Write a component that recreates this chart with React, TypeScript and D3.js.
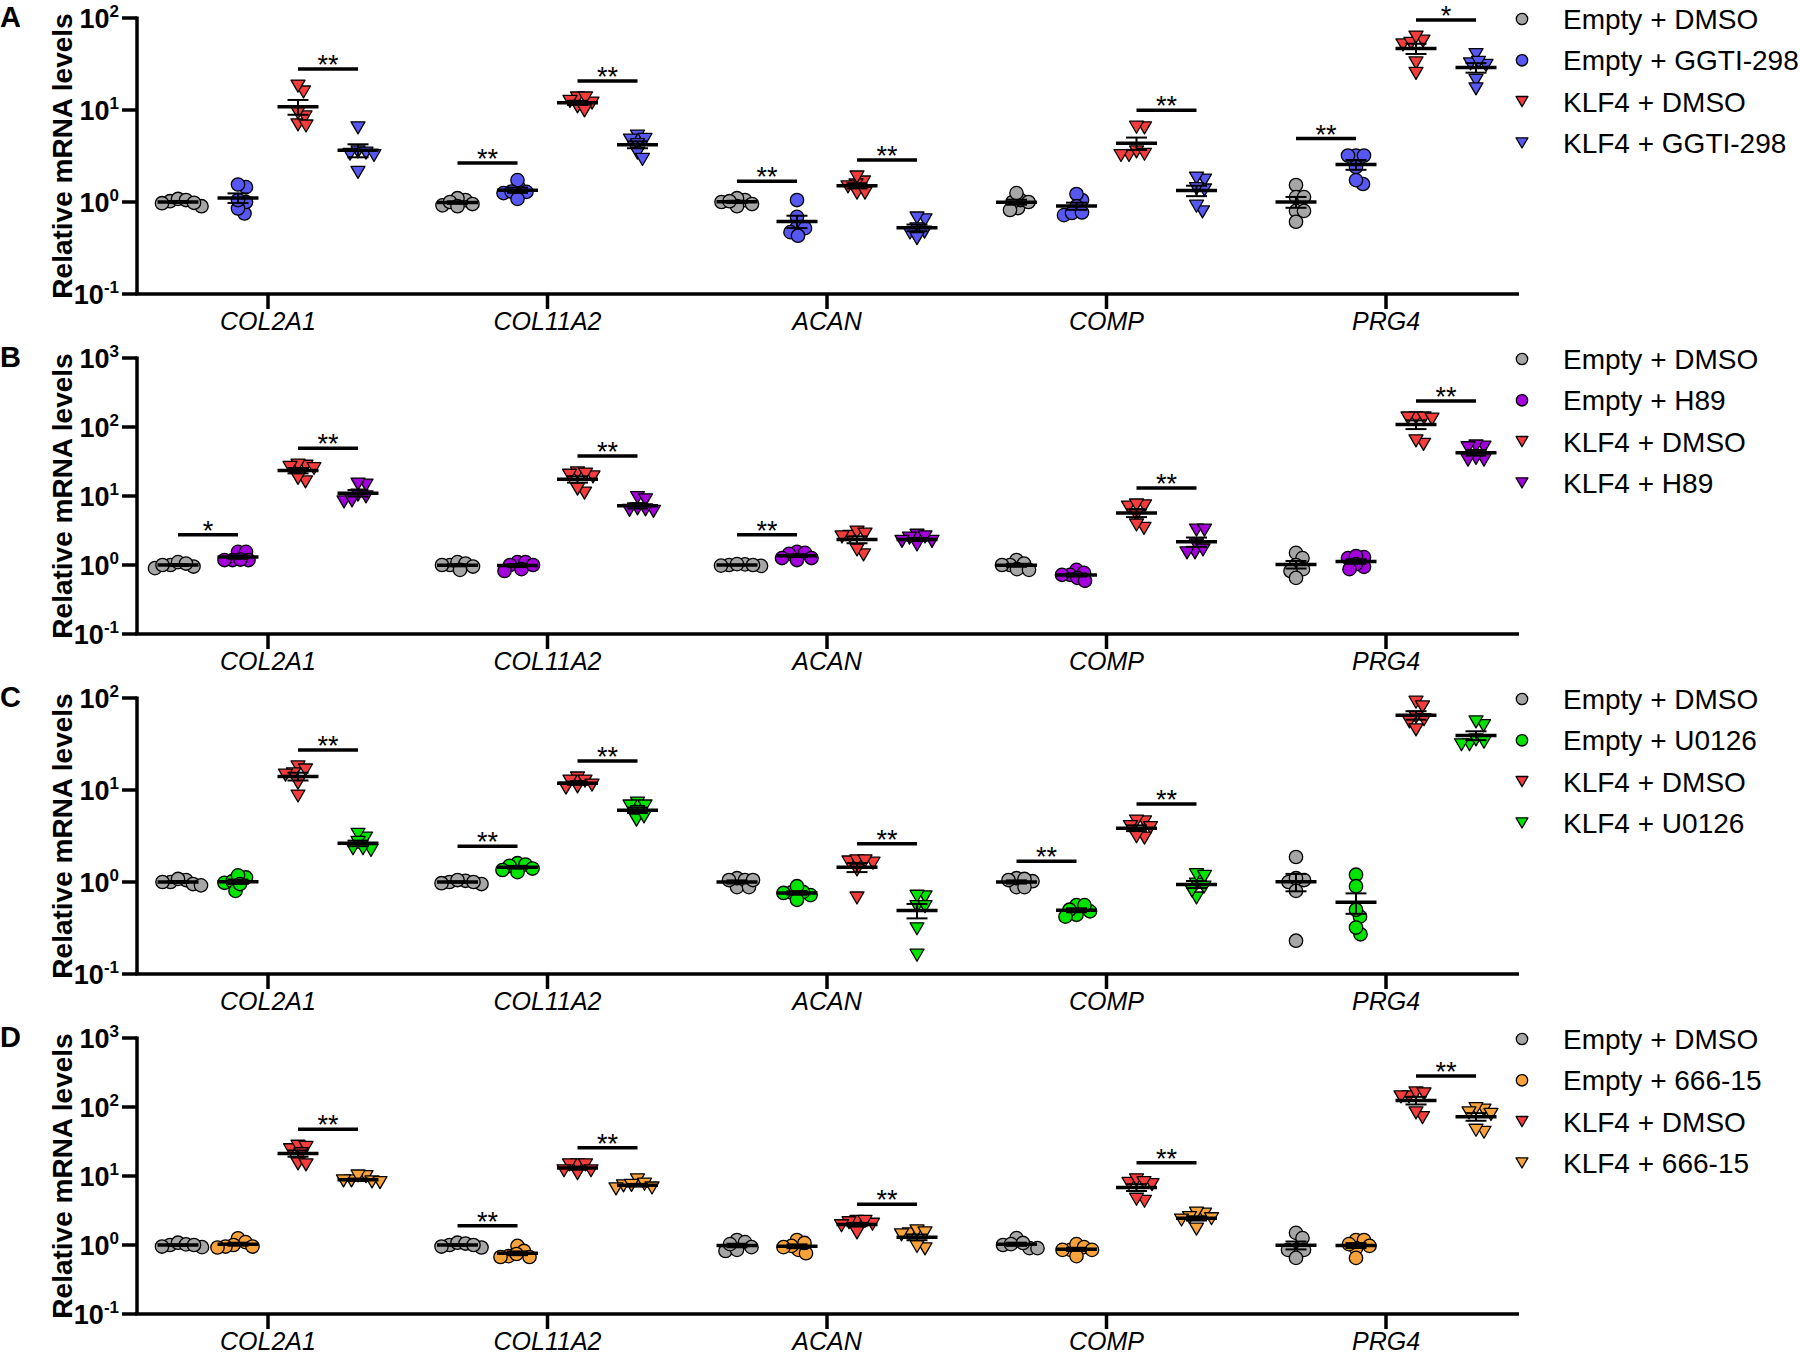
import React from 'react';
import * as d3 from 'd3';

const genes = ['COL2A1', 'COL11A2', 'ACAN', 'COMP', 'PRG4'];
const panelLetters = ['A', 'B', 'C', 'D'];
const yMaxima = [100, 1000, 100, 1000];
const shapes = ['circle', 'circle', 'triangle', 'triangle'];

const legendA = ['Empty + DMSO', 'Empty + GGTI-298', 'KLF4 + DMSO', 'KLF4 + GGTI-298'];
const legendB = ['Empty + DMSO', 'Empty + H89', 'KLF4 + DMSO', 'KLF4 + H89'];
const legendC = ['Empty + DMSO', 'Empty + U0126', 'KLF4 + DMSO', 'KLF4 + U0126'];
const legendD = ['Empty + DMSO', 'Empty + 666-15', 'KLF4 + DMSO', 'KLF4 + 666-15'];

const colorsA = ['#a6a6a6', '#5757f2', '#f43c3c', '#5757f2'];
const colorsB = ['#a6a6a6', '#a300dc', '#f43c3c', '#a300dc'];
const colorsC = ['#a6a6a6', '#00e400', '#f43c3c', '#00e400'];
const colorsD = ['#a6a6a6', '#f7a23a', '#f43c3c', '#f7a23a'];

// values per gene, per group (Empty+DMSO, Empty+inhibitor, KLF4+DMSO, KLF4+inhibitor)
const dataA = [
  [[1.02, 1.08, 0.97, 0.9, 1.05, 0.98], [1.45, 1.55, 0.75, 1.0, 0.85, 1.05], [15.7, 18.2, 6.9, 8.4, 9.3, 6.7], [6.4, 3.5, 3.3, 3.4, 3.2, 2.1]],
  [[1.05, 1.1, 0.92, 0.95, 1.0, 0.9], [1.42, 1.73, 1.29, 1.25, 1.3, 1.08], [10.8, 13.5, 11.9, 12.4, 13.5, 9.8], [5.2, 4.7, 4.8, 4.2, 3.4, 2.9]],
  [[1.05, 1.1, 1.0, 0.95, 0.9, 1.02], [1.05, 0.69, 0.53, 0.47, 0.52, 0.43], [1.65, 1.53, 1.87, 1.46, 1.25, 1.25], [0.64, 0.67, 0.51, 0.46, 0.47, 0.4]],
  [[0.86, 1.05, 1.0, 1.0, 1.25, 0.82], [1.05, 1.22, 0.9, 0.72, 0.76, 0.77], [6.4, 6.5, 3.2, 3.5, 3.2, 3.3], [1.73, 1.82, 1.35, 1.4, 0.78, 0.9]],
  [[1.53, 1.13, 1.13, 0.8, 0.8, 0.61], [3.2, 3.2, 3.2, 2.4, 1.57, 1.73], [56, 51, 53, 62, 32.5, 25], [40, 31.7, 30.6, 33, 21, 17]],
];
const dataB = [
  [[1.0, 1.1, 0.95, 0.9, 1.05, 1.0], [1.55, 1.55, 1.18, 1.18, 1.18, 1.2], [27, 28, 26, 25, 16, 18], [14.4, 14.9, 10.3, 8.2, 8.5, 9.7]],
  [[1.0, 1.1, 1.05, 0.85, 0.95, 1.0], [1.1, 1.1, 1.0, 0.87, 1.0, 0.82], [18.9, 21.6, 20, 20.8, 11, 12.6], [9.5, 8.8, 6.5, 6.2, 6.0, 6.3]],
  [[1.0, 0.98, 1.02, 0.97, 1.0, 1.03], [1.55, 1.5, 1.45, 1.26, 1.26, 1.18], [2.6, 3.0, 2.55, 2.8, 1.4, 1.65], [2.2, 2.7, 2.55, 2.45, 2.2, 1.95]],
  [[1.18, 1.0, 1.0, 1.05, 0.87, 0.85], [0.85, 0.77, 0.72, 0.65, 0.72, 0.59], [7.2, 6.9, 7.4, 5.3, 3.4, 3.8], [3.2, 3.2, 1.95, 1.5, 1.5, 1.65]],
  [[1.5, 1.26, 1.0, 0.87, 0.82, 0.65], [1.3, 1.26, 1.35, 0.94, 1.03, 0.87], [135, 135, 130, 135, 56, 63], [51, 53, 50, 33, 35, 33]],
];
const dataC = [
  [[1.0, 1.05, 0.95, 1.08, 0.92, 1.0], [0.98, 1.12, 1.02, 1.18, 0.8, 0.95], [17.8, 16.5, 15, 14.5, 11.9, 8.6], [3.0, 3.3, 2.7, 2.2, 2.3, 2.3]],
  [[1.0, 1.03, 0.97, 1.05, 0.95, 1.0], [1.6, 1.55, 1.5, 1.35, 1.4, 1.28], [13.5, 12.5, 12.5, 11.3, 10.8, 10.5], [7.2, 6.7, 6.7, 5.8, 4.7, 5.1]],
  [[0.88, 1.1, 1.05, 0.88, 1.05, 1.05], [0.72, 0.78, 0.77, 0.9, 0.64, 0.76], [1.65, 1.6, 1.7, 1.7, 1.35, 0.67], [0.69, 0.7, 0.54, 0.54, 0.31, 0.16]],
  [[0.88, 1.1, 1.02, 1.08, 1.05, 0.88], [0.44, 0.56, 0.48, 0.5, 0.56, 0.42], [4.5, 3.9, 4.6, 4.0, 3.0, 3.1], [0.95, 1.2, 1.15, 0.88, 0.67, 0.8]],
  [[1.87, 1.05, 1.0, 1.1, 0.8, 0.23], [1.2, 0.9, 0.42, 0.5, 0.27, 0.32], [90, 80, 62, 58, 55, 45], [50, 55, 31, 35, 31, 33]],
];
const dataD = [
  [[1.0, 1.08, 0.95, 1.02, 0.93, 1.0], [1.25, 1.1, 1.0, 0.95, 0.92, 0.95], [24, 27, 26, 21, 15, 14.5], [9.8, 8.2, 8.5, 10, 8, 8.5]],
  [[1.0, 1.08, 0.95, 1.05, 0.92, 1.0], [0.97, 0.69, 0.82, 0.67, 0.74, 0.67], [14.5, 14.5, 14.5, 11.9, 11.9, 10.8], [8.8, 7.2, 7.6, 7.3, 6.7, 6.5]],
  [[0.82, 1.18, 1.1, 0.85, 1.03, 0.93], [0.85, 1.18, 0.97, 0.76, 0.93, 1.07], [2.0, 2.2, 2.2, 2.1, 1.9, 1.5], [1.45, 1.6, 1.4, 1.5, 0.88, 0.95]],
  [[0.9, 1.26, 1.0, 1.03, 1.07, 0.9], [0.85, 1.03, 0.85, 0.93, 0.85, 0.69], [7.8, 8.8, 7.5, 8.0, 4.3, 4.6], [2.8, 2.9, 2.5, 2.3, 1.7, 2.4]],
  [[1.5, 1.26, 0.85, 0.85, 0.85, 0.65], [1.18, 1.18, 0.97, 0.9, 1.03, 0.65], [140, 160, 140, 155, 70, 82], [90, 95, 78, 82, 43, 46]],
];

// significance: gene index, group pair, label
const sigA = [
  { gene: 0, pair: [2, 3], label: '**' },
  { gene: 1, pair: [0, 1], label: '**' },
  { gene: 1, pair: [2, 3], label: '**' },
  { gene: 2, pair: [0, 1], label: '**' },
  { gene: 2, pair: [2, 3], label: '**' },
  { gene: 3, pair: [2, 3], label: '**' },
  { gene: 4, pair: [0, 1], label: '**' },
  { gene: 4, pair: [2, 3], label: '*' },
];
const sigB = [
  { gene: 0, pair: [0, 1], label: '*' },
  { gene: 0, pair: [2, 3], label: '**' },
  { gene: 1, pair: [2, 3], label: '**' },
  { gene: 2, pair: [0, 1], label: '**' },
  { gene: 3, pair: [2, 3], label: '**' },
  { gene: 4, pair: [2, 3], label: '**' },
];
const sigC = [
  { gene: 0, pair: [2, 3], label: '**' },
  { gene: 1, pair: [0, 1], label: '**' },
  { gene: 1, pair: [2, 3], label: '**' },
  { gene: 2, pair: [2, 3], label: '**' },
  { gene: 3, pair: [0, 1], label: '**' },
  { gene: 3, pair: [2, 3], label: '**' },
];
const sigD = [
  { gene: 0, pair: [2, 3], label: '**' },
  { gene: 1, pair: [0, 1], label: '**' },
  { gene: 1, pair: [2, 3], label: '**' },
  { gene: 2, pair: [2, 3], label: '**' },
  { gene: 3, pair: [2, 3], label: '**' },
  { gene: 4, pair: [2, 3], label: '**' },
];

const FONT = "'Liberation Sans', Arial, Helvetica, sans-serif";

function swarm(ys: number[], minDist: number, maxOff: number): number[] {
  const order = d3.range(ys.length).sort((a, b) => ys[a] - ys[b]);
  const xs: number[] = new Array(ys.length).fill(0);
  const placed: number[] = [];
  const cands: number[] = [0];
  for (let k = 1; k <= maxOff * 2; k++) cands.push(k * 0.5, -k * 0.5);
  for (const i of order) {
    let best = 0;
    let bestScore = -Infinity;
    for (const c of cands) {
      const dmin = placed.length ? d3.min(placed, (j) => Math.hypot(xs[j] - c, ys[j] - ys[i]))! : Infinity;
      if (dmin >= minDist) { best = c; bestScore = Infinity; break; }
      if (dmin > bestScore) { bestScore = dmin; best = c; }
    }
    xs[i] = best;
    placed.push(i);
  }
  return xs;
}

function Marker({ shape, cx, cy, fill, s = 1 }: { shape: string; cx: number; cy: number; fill: string; s?: number }) {
  if (shape === 'circle') {
    return <circle cx={cx} cy={cy} r={6.7 * s} fill={fill} stroke="#000" strokeWidth={1.3} />;
  }
  const w = 7 * s;
  const h = 6 * s;
  return <path d={`M${cx - w},${cy - h}L${cx + w},${cy - h}L${cx},${cy + h}Z`} fill={fill} stroke="#000" strokeWidth={1.3} strokeLinejoin="round" />;
}

type Sig = { gene: number; pair: number[]; label: string };

function Panel({ index, data, sigs, colors, legend }: { index: number; data: number[][][]; sigs: Sig[]; colors: string[]; legend: string[] }) {
  const top = 18 + index * 340;
  const axisY = top + 276;
  const yMax = yMaxima[index];
  const y = d3.scaleLog().domain([0.1, yMax]).range([axisY, top]);
  const x = d3.scalePoint<string>().domain(genes).range([268, 1386]);
  const gx = d3.scalePoint<number>().domain([0, 1, 2, 3]).range([-90, 90]);
  const exps = d3.range(-1, Math.round(Math.log10(yMax)) + 1);
  const axisLeft = 137;
  const axisRight = 1519;

  return (
    <g>
      <text x={0} y={top + 9} fontFamily={FONT} fontWeight="bold" fontSize={29}>{panelLetters[index]}</text>
      <text transform={`translate(72,${(top + axisY) / 2}) rotate(-90)`} textAnchor="middle" fontFamily={FONT} fontWeight="bold" fontSize={28}>
        Relative mRNA levels
      </text>
      {exps.map((e) => (
        <g key={e}>
          <line x1={axisLeft - 15} x2={axisLeft} y1={y(Math.pow(10, e))} y2={y(Math.pow(10, e))} stroke="#000" strokeWidth={3.5} />
          <text x={119} y={y(Math.pow(10, e)) + 9.5} textAnchor="end" fontFamily={FONT} fontWeight="bold" fontSize={27}>
            <tspan>10</tspan>
            <tspan dy={-11} fontSize={17} fontWeight="bold">{e < 0 ? `-${-e}` : `${e}`}</tspan>
          </text>
        </g>
      ))}
      <line x1={axisLeft} x2={axisLeft} y1={top - 1.5} y2={axisY} stroke="#000" strokeWidth={3.5} />
      <line x1={axisLeft - 1.75} x2={axisRight} y1={axisY} y2={axisY} stroke="#000" strokeWidth={3.5} />
      {genes.map((g) => (
        <g key={g}>
          <line x1={x(g)!} x2={x(g)!} y1={axisY} y2={axisY + 15} stroke="#000" strokeWidth={3.5} />
          <text x={x(g)!} y={axisY + 36} textAnchor="middle" fontFamily={FONT} fontStyle="italic" fontSize={25}>{g}</text>
        </g>
      ))}
      {data.map((geneData, gi) =>
        geneData.map((vals, k) => {
          const cx = x(genes[gi])! + gx(k)!;
          const ys = vals.map((v) => y(v));
          const offs = swarm(ys, 8, 24);
          const m = d3.mean(vals)!;
          const sem = d3.deviation(vals)! / Math.sqrt(vals.length);
          return (
            <g key={`${gi}-${k}`}>
              {vals.map((v, i) => (
                <Marker key={i} shape={shapes[k]} cx={cx + offs[i]} cy={ys[i]} fill={colors[k]} />
              ))}
              <line x1={cx} x2={cx} y1={y(m + sem)} y2={y(m - sem)} stroke="#000" strokeWidth={2} />
              <line x1={cx - 10.5} x2={cx + 10.5} y1={y(m + sem)} y2={y(m + sem)} stroke="#000" strokeWidth={2} />
              <line x1={cx - 10.5} x2={cx + 10.5} y1={y(m - sem)} y2={y(m - sem)} stroke="#000" strokeWidth={2} />
              <line x1={cx - 20.5} x2={cx + 20.5} y1={y(m)} y2={y(m)} stroke="#000" strokeWidth={3.5} />
            </g>
          );
        })
      )}
      {sigs.map((s, i) => {
        const g = genes[s.gene];
        const xa = x(g)! + gx(s.pair[0])!;
        const xb = x(g)! + gx(s.pair[1])!;
        const mx = d3.max([...data[s.gene][s.pair[0]], ...data[s.gene][s.pair[1]]])!;
        const by = y(mx) - 17;
        return (
          <g key={i}>
            <line x1={xa} x2={xb} y1={by} y2={by} stroke="#000" strokeWidth={3.5} />
            <text x={(xa + xb) / 2} y={by + 5} textAnchor="middle" fontFamily={FONT} fontSize={27}>{s.label}</text>
          </g>
        );
      })}
      {legend.map((l, k) => {
        const ly = top + 1 + k * 41.3;
        return (
          <g key={l}>
            <Marker shape={shapes[k]} cx={1522} cy={ly} fill={colors[k]} s={0.85} />
            <text x={1563} y={ly + 10} fontFamily={FONT} fontSize={28}>{l}</text>
          </g>
        );
      })}
    </g>
  );
}

export default function App() {
  const panels = [
    { data: dataA, sigs: sigA, colors: colorsA, legend: legendA },
    { data: dataB, sigs: sigB, colors: colorsB, legend: legendB },
    { data: dataC, sigs: sigC, colors: colorsC, legend: legendC },
    { data: dataD, sigs: sigD, colors: colorsD, legend: legendD },
  ];
  return (
    <svg width={1800} height={1356} style={{ position: 'absolute', left: 0, top: 0, background: '#fff' }}>
      <rect width={1800} height={1356} fill="#fff" />
      {panels.map((p, i) => (
        <Panel key={i} index={i} {...p} />
      ))}
    </svg>
  );
}
